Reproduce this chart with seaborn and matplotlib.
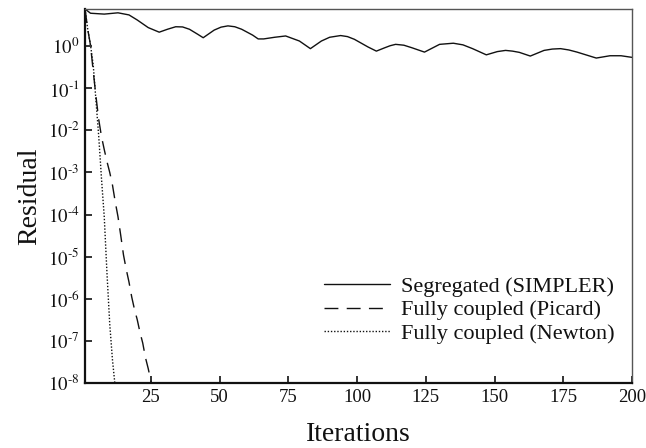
import numpy as np
import pandas as pd
import matplotlib
matplotlib.use("Agg")
import matplotlib.pyplot as plt
import seaborn as sns

# ---- data ----
simpler_iter = [1, 3, 8, 13, 17, 20, 24, 28, 31, 34, 36.5, 39, 42, 44, 48, 50.5, 53,
                55.5, 58, 62, 64, 66, 70, 74, 79, 83, 87, 90, 94, 96.5, 99, 104, 107,
                110, 112, 114, 117, 120, 124.5, 130, 135, 138.5, 142, 147, 151, 154,
                156.5, 159, 163, 168, 171, 174, 177, 180, 187, 192, 196, 200]
simpler_res = [7.59, 6.03, 5.75, 6.17, 5.50, 4.17, 2.75, 2.14, 2.51, 2.88, 2.85, 2.51,
               1.91, 1.58, 2.40, 2.82, 3.02, 2.88, 2.51, 1.82, 1.48, 1.48, 1.62, 1.74,
               1.32, 0.87, 1.32, 1.62, 1.78, 1.68, 1.45, 0.95, 0.76, 0.91, 1.02, 1.10,
               1.05, 0.91, 0.72, 1.10, 1.17, 1.07, 0.87, 0.62, 0.74, 0.79, 0.76, 0.71,
               0.58, 0.79, 0.85, 0.87, 0.81, 0.72, 0.52, 0.59, 0.59, 0.54]

picard_iter = list(range(1, 27))
picard_res = [7.6, 2.5, 1.05, 0.25, 0.063, 0.018, 7.1e-3, 3.5e-3, 1.8e-3, 1.0e-3,
              5.0e-4, 2.0e-4, 8.9e-5, 3.2e-5, 1.1e-5, 5.0e-6, 2.5e-6, 1.1e-6,
              5.6e-7, 3.2e-7, 1.6e-7, 8.9e-8, 4.0e-8, 2.2e-8, 1.1e-8, 5.6e-9]

newton_iter = list(range(1, 13))
newton_res = [7.6, 2.5, 1.07, 0.35, 0.05, 7.1e-3, 7.1e-4, 8.9e-5, 4.0e-6, 2.5e-7,
              3.5e-8, 7.9e-9]

labels = ["Segregated (SIMPLER)", "Fully coupled (Picard)", "Fully coupled (Newton)"]
x_ticks = [25, 50, 75, 100, 125, 150, 175, 200]
y_ticks = [1e0, 1e-1, 1e-2, 1e-3, 1e-4, 1e-5, 1e-6, 1e-7, 1e-8]
y_ticklabels = [r"$10^{0}$", r"$10^{\text{-}1}$", r"$10^{\text{-}2}$", r"$10^{\text{-}3}$",
                r"$10^{\text{-}4}$", r"$10^{\text{-}5}$", r"$10^{\text{-}6}$",
                r"$10^{\text{-}7}$", r"$10^{\text{-}8}$"]

df = pd.concat([
    pd.DataFrame({"Iterations": simpler_iter, "Residual": simpler_res, "method": labels[0]}),
    pd.DataFrame({"Iterations": picard_iter, "Residual": picard_res, "method": labels[1]}),
    pd.DataFrame({"Iterations": newton_iter, "Residual": newton_res, "method": labels[2]}),
], ignore_index=True)

sns.set_theme(style="white")
plt.rcParams["font.family"] = ["Liberation Serif", "DejaVu Serif"]
plt.rcParams["mathtext.fontset"] = "stix"

fig = plt.figure(figsize=(6.46, 4.48), dpi=100)
ax = fig.add_axes([85 / 646, 1 - 383 / 448, (632 - 85) / 646, (383 - 9) / 448])

dashes = {labels[0]: "", labels[1]: (10, 6), labels[2]: (1, 1.3)}
sns.lineplot(data=df, x="Iterations", y="Residual", style="method", style_order=labels,
             dashes=dashes, color="#111111", linewidth=1.0, sort=False,
             estimator=None, legend=False, ax=ax)

ax.set_yscale("log")
ax.set_xlim(1, 200)
ax.set_ylim(1e-8, 7.6)
ax.set_xticks(x_ticks)
ax.set_xticklabels([str(t) for t in x_ticks])
ax.set_yticks(y_ticks)
ax.set_yticklabels(y_ticklabels)
ax.minorticks_off()
ax.yaxis.set_minor_locator(matplotlib.ticker.NullLocator())

ax.tick_params(axis="both", which="major", direction="in", length=5, width=1.2,
               labelsize=13.5, colors="#111111", pad=4, left=True, bottom=True,
               top=False, right=False)

for side in ["left", "bottom"]:
    ax.spines[side].set_color("#111111")
    ax.spines[side].set_linewidth(1.6)
for side in ["top", "right"]:
    ax.spines[side].set_color("#555555")
    ax.spines[side].set_linewidth(1.0)

ax.set_xlabel("Iterations", fontsize=20, color="#111111", labelpad=12)
ax.set_ylabel("Residual", fontsize=20, color="#111111", labelpad=4)

leg = ax.legend(ax.lines, labels, loc="center right", bbox_to_anchor=(0.969, 0.195),
                frameon=False, fontsize=16, handlelength=3.0, handletextpad=0.5,
                labelspacing=0.12, borderpad=0, borderaxespad=0)
for t in leg.get_texts():
    t.set_color("#111111")

fig.savefig("out.png", dpi=100, facecolor="white")
